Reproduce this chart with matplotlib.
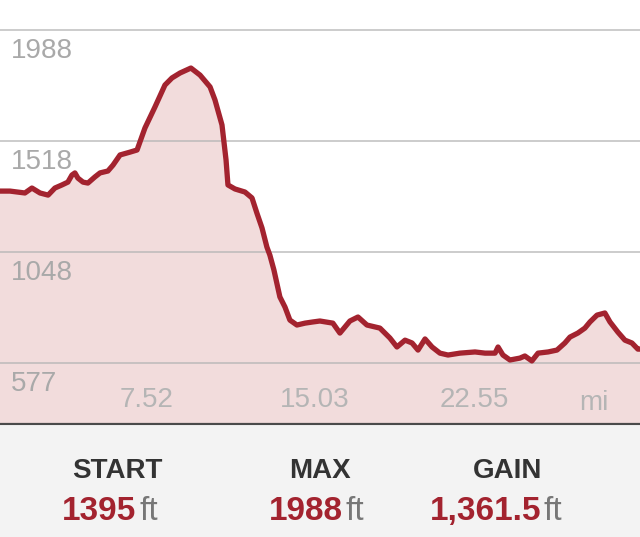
import matplotlib.pyplot as plt
from matplotlib.patches import Rectangle

plt.rcParams['font.family'] = ['Liberation Sans', 'DejaVu Sans']

# elevation profile (miles, feet)
distance = [0.00, 0.47, 1.17, 1.50, 1.88, 2.26, 2.58, 2.91, 3.19, 3.38, 3.52, 3.66,
            3.90, 4.13, 4.46, 4.70, 5.07, 5.31, 5.64, 6.11, 6.44, 6.81, 7.28, 7.75,
            8.08, 8.46, 8.97, 9.40, 9.87, 10.10, 10.43, 10.62, 10.71, 11.04, 11.51,
            11.84, 12.07, 12.31, 12.54, 12.68, 12.87, 13.15, 13.39, 13.62, 13.95,
            14.33, 14.70, 15.03, 15.64, 15.97, 16.44, 16.82, 17.24, 17.85, 18.32,
            18.65, 19.03, 19.36, 19.64, 19.97, 20.30, 20.67, 21.05, 21.61, 22.32,
            22.79, 23.26, 23.40, 23.63, 23.96, 24.43, 24.66, 24.99, 25.28, 25.75,
            26.17, 26.54, 26.78, 27.15, 27.48, 27.72, 28.05, 28.42, 28.66, 29.03,
            29.36, 29.69, 29.97, 30.07]
elevation = [1306, 1306, 1298, 1319, 1298, 1289, 1319, 1332, 1344, 1374, 1383, 1361,
             1344, 1340, 1366, 1383, 1391, 1416, 1459, 1471, 1480, 1573, 1662, 1755,
             1785, 1806, 1827, 1797, 1747, 1692, 1586, 1438, 1332, 1315, 1302,
             1277, 1213, 1150, 1069, 1035, 972, 858, 815, 760, 739,
             747, 752, 756, 747, 705, 756, 773, 739, 726, 684,
             646, 675, 663, 633, 680, 646, 620, 612, 620, 625,
             620, 620, 646, 612, 591, 599, 608, 587, 620, 625,
             633, 663, 688, 705, 726, 752, 781, 790, 752, 709,
             675, 663, 637, 637]

y_ticks = [1988, 1518, 1048, 577]
x_ticks = [7.52, 15.03, 22.55]
x_tick_labels = ['7.52', '15.03', '22.55']

stat_names = ['START', 'MAX', 'GAIN']
stat_values = ['1395', '1988', '1,361.5']

line_color = '#a3232f'
fill_color = '#f2dcdc'

fig = plt.figure(figsize=(6.4, 5.37), dpi=100)
fig.patch.set_facecolor('white')

# stats panel at the bottom
fig.patches.append(Rectangle((0, 0), 1, 111 / 537, transform=fig.transFigure,
                             facecolor='#f3f3f3', edgecolor='none', zorder=0))

ax = fig.add_axes([0, 113 / 537, 1, 424 / 537])
ax.set_xlim(0, 30.07)
ax.set_ylim(320, 2115)

ax.fill_between(distance, 320, elevation, color=fill_color, lw=0, zorder=1)
for v in y_ticks:
    ax.axhline(v, color='#b3b3b3', lw=1.1, alpha=0.85, zorder=2)
ax.plot(distance, elevation, color=line_color, lw=3.8, solid_joinstyle='round',
        solid_capstyle='round', zorder=3)

for v in y_ticks:
    ax.annotate(str(v), xy=(0, v), xycoords=('axes fraction', 'data'),
                xytext=(11, -8), textcoords='offset pixels', ha='left', va='top',
                fontsize=20, color='#a9a9a9', zorder=4)

for v, lab, dx in zip(x_ticks, x_tick_labels, [-13, -5, -6]):
    ax.annotate(lab, xy=(v, 0), xycoords=('data', 'axes fraction'),
                xytext=(dx, 24), textcoords='offset pixels', ha='center', va='center',
                fontsize=20, color='#b5b5b5', zorder=4)
ax.annotate('mi', xy=(1, 0), xycoords='axes fraction', xytext=(-46, 21),
            textcoords='offset pixels', ha='center', va='center',
            fontsize=20, color='#b5b5b5', zorder=4)

ax.set_xticks([])
ax.set_yticks([])
for s in ['top', 'left', 'right']:
    ax.spines[s].set_visible(False)
ax.spines['bottom'].set_color('#4a4a4a')
ax.spines['bottom'].set_linewidth(1.6)

# stats
name_x = [117, 320, 508]
split_x = [136, 343, 541]
for name, val, nx, sx in zip(stat_names, stat_values, name_x, split_x):
    fig.text(nx / 640, (537 - 478) / 537, name, ha='center', va='baseline',
             fontsize=20, fontweight='bold', color='#333333')
    fig.text(sx / 640, (537 - 520) / 537, val, ha='right', va='baseline',
             fontsize=24, fontweight='bold', color=line_color)
    fig.text((sx + 3) / 640, (537 - 520) / 537, 'ft', ha='left', va='baseline',
             fontsize=24, color='#777777')

fig.savefig('out.png', dpi=100)
